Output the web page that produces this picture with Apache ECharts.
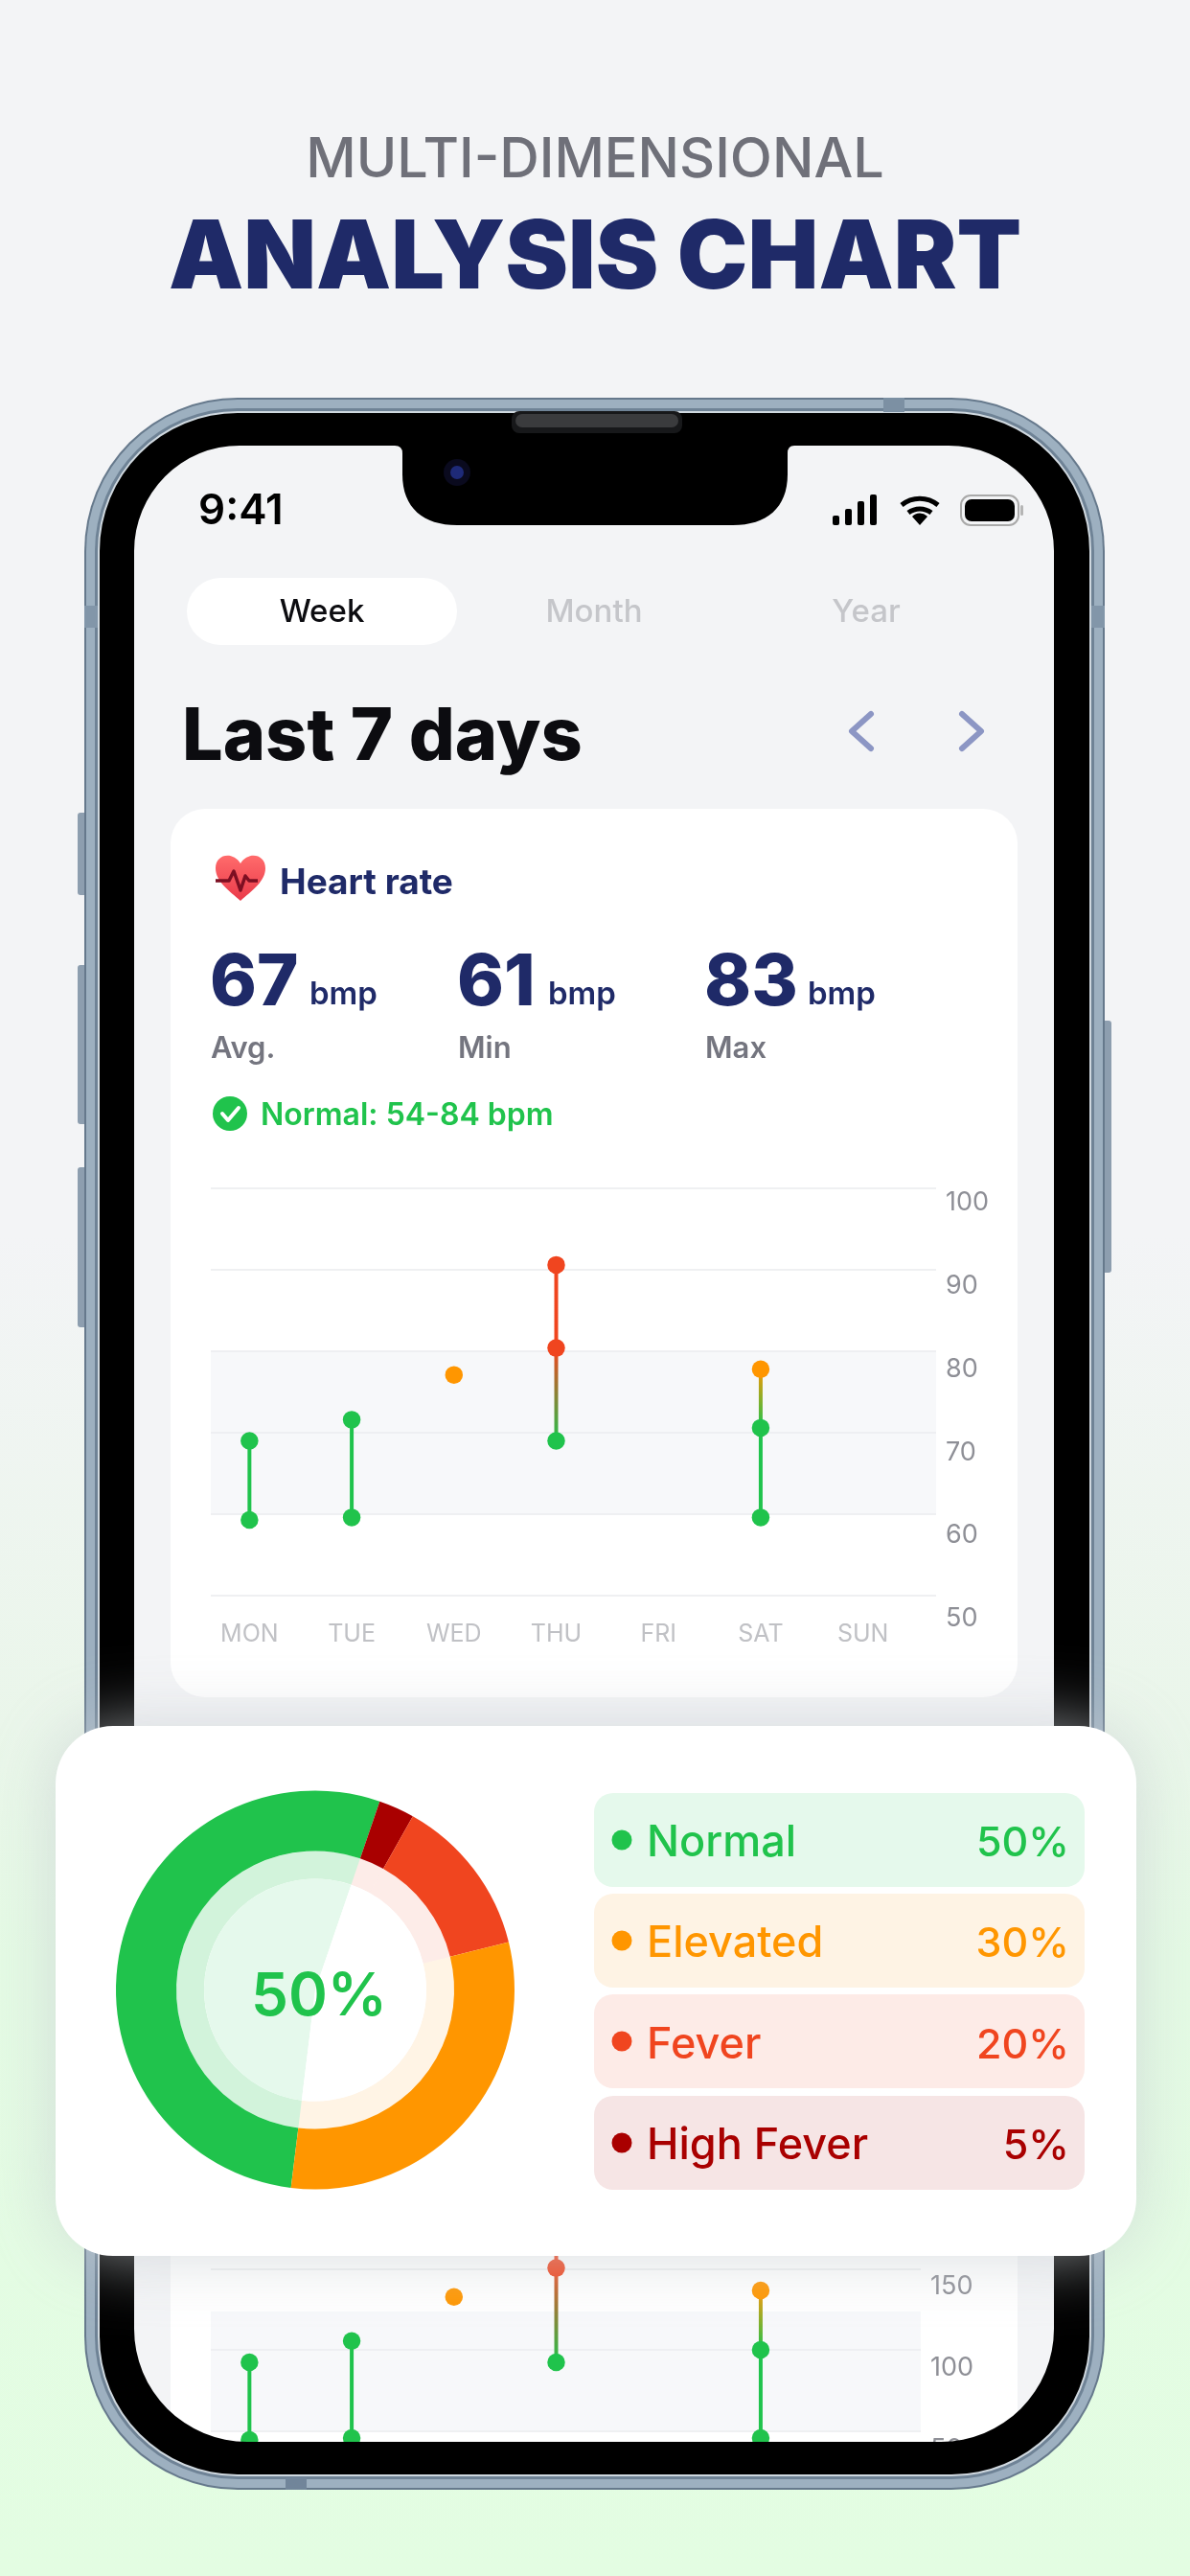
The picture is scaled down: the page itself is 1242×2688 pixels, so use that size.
<!DOCTYPE html>
<html>
<head>
<meta charset="UTF-8"/>
<title>Analysis chart</title>
<style>
  html, body { margin: 0; padding: 0; background: #f3f4f6; }
  #c { width: 1242px; height: 2688px; }
</style>
<script src="https://cdn.jsdelivr.net/npm/echarts@6/dist/echarts.min.js"></script>
</head>
<body>
<div id="c"></div>
<script>
// chart data
const days = ["MON", "TUE", "WED", "THU", "FRI", "SAT", "SUN"];

const hrTop = [69, 71.6, 77.1, 90.6, null, 77.8, null];
const hrMid = [null, null, null, 80.4, null, 70.6, null];
const hrBottom = [59.3, 59.6, null, 69, null, 59.6, null];
const hrBand = [60, 80];
const hrTicks = [50, 100, 10];

// second chart, mostly hidden by the popup card
const lowTop = [92.3, 105.5, 132.6, 172, null, 136.6, null];
const lowMid = [null, null, null, 150.4, null, 100, null];
const lowBottom = [44.5, 45.7, null, 92.3, null, 45.7, null];
const lowBand = [50, 123.8];
const lowTicks = [0, 200, 50];

const levelNames = ["Normal", "Elevated", "Fever", "High Fever"];
const levelLabels = ["50%", "30%", "20%", "5%"];
// slice sizes as drawn (they do not follow the labels)
const sliceNames = ["Normal", "High Fever", "Fever", "Elevated"];
const sliceValues = [53.3, 2.9, 13, 30.8];

const stats = ["67", "61", "83"];
const statNames = ["Avg.", "Min", "Max"];

const GREEN = "#20c34c", ORANGE = "#ff9600", RED = "#f0451f", DARK = "#a90000";
const NAVY = "#1f2a68";
const levelColors = { "Normal": GREEN, "Elevated": ORANGE, "Fever": RED, "High Fever": DARK };
const rowFills = ["#e5f9ec", "#fef3e4", "#fdebe7", "#f6e5e5"];
const FONT = "Inter, 'Noto Sans', sans-serif";

const chart = echarts.init(document.getElementById("c"), null, { renderer: "canvas", width: 1242, height: 2688 });

// ---- scenery helpers
function rrect(x, y, w, h, r) {
  return `M${x + r} ${y}L${x + w - r} ${y}A${r} ${r} 0 0 1 ${x + w} ${y + r}L${x + w} ${y + h - r}A${r} ${r} 0 0 1 ${x + w - r} ${y + h}L${x + r} ${y + h}A${r} ${r} 0 0 1 ${x} ${y + h - r}L${x} ${y + r}A${r} ${r} 0 0 1 ${x + r} ${y}Z`;
}
function box(x, y, width, height, r, fill, z, extra) {
  return { type: "rect", silent: true, z, shape: { x, y, width, height, r }, style: Object.assign({ fill }, extra || {}) };
}
// y is the text baseline
function label(x, baseline, text, font, fill, z, textAlign) {
  const size = parseFloat(font.split(" ")[1]);
  return { type: "text", silent: true, z, x, y: baseline - size * 0.784, style: { text, font: font + " " + FONT, fill, textAlign: textAlign || "left" } };
}
function dot(cx, cy, r, fill, z) {
  return { type: "circle", silent: true, z, shape: { cx, cy, r }, style: { fill } };
}
// the graphic component has no plain path type, so each path gets its own shape
let pathCount = 0;
function path(pathData, style, z) {
  const type = "scenePath" + (pathCount++);
  echarts.graphic.registerShape(type, echarts.graphic.extendPath(pathData, {}));
  return { type, silent: true, z, style };
}

// the screen hole runs counter-clockwise so it cuts out of the clockwise body
const screenHole = "M412 465L250 465A110 110 0 0 0 140 575L140 2430A118 118 0 0 0 258 2548L982 2548A118 118 0 0 0 1100 2430L1100 575A110 110 0 0 0 990 465L829 465Q822 465 822 473L822 495C822 530 800 548 765 548L477 548C442 548 420 530 420 495L420 473Q420 465 412 465Z";

const scenery = [
  { type: "rect", silent: true, z: -100, shape: { x: 0, y: 0, width: 1242, height: 2688 },
    style: { fill: { type: "linear", x: 0, y: 0, x2: 0, y2: 1, colorStops: [{ offset: 0, color: "#f3f4f6" }, { offset: 0.48, color: "#f3f4f6" }, { offset: 0.67, color: "#eaf6ea" }, { offset: 0.76, color: "#e4fbe4" }, { offset: 1, color: "#e3fde2" }] } } },
  label(621, 184, "MULTI-DIMENSIONAL", "500 57.5px", "#6f7079", -99, "center"),
  label(621, 299, "ANALYSIS CHART", "900 98.5px", NAVY, -99, "center"),

  // side buttons
  box(81, 848, 12, 86, 3, "#8d9eaf", -96),
  box(81, 1007, 12, 166, 3, "#8d9eaf", -96),
  box(81, 1218, 12, 167, 3, "#8d9eaf", -96),
  box(1149, 1065, 11, 263, 3, "#8d9eaf", -96),

  // phone body: metal rim in layers, then a thin light line under the black
  box(88, 415, 1065, 2183, 160, "#66798c", -95),
  box(90, 417, 1061, 2179, 158, "#9db0c0", -95),
  box(99, 426, 1043, 2161, 149, "#6f8396", -95),
  box(102, 429, 1037, 2155, 146, "#cfd8df", -95),
  box(922, 415, 22, 15, 0, "#7c90a3", -94),
  box(298, 2585, 22, 13, 0, "#71859a", -94),
  box(88, 632, 14, 23, 0, "#8296a9", -94),
  box(1139, 632, 14, 23, 0, "#8296a9", -94),
  box(139, 460, 963, 2095, 90, "#f3f4f6", -90),

  // status bar
  label(207, 546, "9:41", "600 44px", "#000000", -70),
  box(869, 538, 7, 10, 2, "#000", -70),
  box(882, 531, 7, 17, 2, "#000", -70),
  box(895, 523, 7, 25, 2, "#000", -70),
  box(908, 516, 7, 32, 2, "#000", -70),
  path("M941 527A30 30 0 0 1 979 527", { fill: "none", stroke: "#000", lineWidth: 5 }, -70),
  path("M948 535A20 20 0 0 1 972 535", { fill: "none", stroke: "#000", lineWidth: 5 }, -70),
  path("M960 548L952 539A11 11 0 0 1 968 539Z", { fill: "#000" }, -70),
  box(1003, 517, 60, 31, 10, "none", -70, { stroke: "#a9a9a9", lineWidth: 2 }),
  box(1007, 521, 52, 23, 7, "#000", -70),
  box(1065, 527, 3, 11, 1.5, "#b5b5b5", -70),

  // tabs and heading
  box(195, 603, 282, 70, 35, "#ffffff", -70),
  label(336, 648, "Week", "500 33px", "#0c0c10", -69, "center"),
  label(620, 648, "Month", "500 33px", "#c5c6ca", -69, "center"),
  label(904, 648, "Year", "500 33px", "#c5c6ca", -69, "center"),
  label(190, 791, "Last 7 days", "800 75.5px", "#0c0c10", -69),
  path("M909 745L889 763L909 781", { fill: "none", stroke: "#8c96c4", lineWidth: 6, lineCap: "round", lineJoin: "round" }, -69),
  path("M1004 745L1024 763L1004 781", { fill: "none", stroke: "#8c96c4", lineWidth: 6, lineCap: "round", lineJoin: "round" }, -69),

  // heart rate card
  box(178, 844, 884, 927, 36, "#ffffff", -70),
  path("M251 940C240 930 225 920 225 906C225 891 243 888 251 901C259 888 277 891 277 906C277 920 262 930 251 940Z",
    { fill: { type: "linear", x: 0, y: 0, x2: 0, y2: 1, colorStops: [{ offset: 0, color: "#ff6b6b" }, { offset: 1, color: "#ea3a4a" }] } }, -69),
  path("M225 919L239 919L244 909L251 929L256 914L260 919L269 919", { fill: "none", stroke: "#7d0f22", lineWidth: 3.5, lineJoin: "round" }, -68),
  label(292, 932, "Heart rate", "700 37px", NAVY, -69),
  dot(240, 1162, 18, GREEN, -69),
  path("M232 1162L238 1169L249 1156", { fill: "none", stroke: "#fff", lineWidth: 4, lineCap: "round", lineJoin: "round" }, -68),
  label(272, 1173, "Normal: 54-84 bpm", "600 32px", GREEN, -69),

  // second card behind the popup
  box(178, 2300, 884, 260, 0, "#ffffff", -70),

  // front of the phone over the charts
  path(rrect(104, 431, 1033, 2151, 144) + screenHole, { fill: "#000000" }, 50),
  box(534, 429, 178, 23, 8, "#17181a", 51),
  box(538, 432, 170, 14, 7, "#3a3b3d", 51),
  dot(477, 493, 14, "#0a0a1e", 51),
  dot(477, 493, 7, "#1e2a78", 51),

  // popup card
  box(58, 1801, 1128, 553, 60, "#ffffff", 60, { shadowBlur: 70, shadowColor: "rgba(200,205,210,0.7)" }),
  label(333, 2102, "50%", "600 62px", GREEN, 75, "center")
];

// stats row
const statX = [219, 477, 735];
const bmpX = [323, 572, 843];
stats.forEach((s, i) => {
  scenery.push(label(statX[i], 1048, s, "800 74px", NAVY, -69));
  scenery.push(label(bmpX[i], 1047, "bmp", "600 33px", NAVY, -69));
  scenery.push(label(statX[i] + 1, 1103, statNames[i], "600 31px", "#74757f", -69));
});

// popup legend
const rowTop = [1871, 1976, 2081, 2187];
const rowBase = [1936, 2041, 2147, 2252];
levelNames.forEach((name, i) => {
  const col = levelColors[name];
  scenery.push(box(620, rowTop[i], 512, 98, 20, rowFills[i], 70));
  scenery.push(dot(649, rowTop[i] + 49, 10.5, col, 71));
  scenery.push(label(675, rowBase[i], name, "500 45px", col, 71));
  scenery.push(label(1116, rowBase[i], levelLabels[i], "500 43px", col, 71, "right"));
});

// ---- chart helpers
// one stem per day; colour runs from the top point's colour down to green
function dayStem(i, top, mid, bottom, axis, colorOf) {
  const vals = [top[i], mid[i], bottom[i]].filter(v => v != null);
  if (!vals.length) return null;
  const span = vals[0] - vals[vals.length - 1] || 1;
  const firstGreen = vals.findIndex(v => colorOf(v) === GREEN);
  const to = firstGreen < 0 ? 1 : (vals[0] - vals[firstGreen]) / span;
  const from = firstGreen > 0 ? (vals[0] - vals[firstGreen - 1]) / span : 0;
  const upper = colorOf(vals[0]);
  return {
    type: "line", xAxisIndex: axis, yAxisIndex: axis, z: 5, silent: true,
    symbol: "circle", symbolSize: 18.5, clip: false,
    lineStyle: { width: 4, color: { type: "linear", x: 0, y: 0, x2: 0, y2: 1, colorStops: [{ offset: 0, color: upper }, { offset: from, color: upper }, { offset: to, color: GREEN }, { offset: 1, color: GREEN }] } },
    data: vals.map(v => ({ value: [days[i], v], itemStyle: { color: colorOf(v) } }))
  };
}
function bandSeries(axis, band) {
  return {
    type: "line", xAxisIndex: axis, yAxisIndex: axis, data: [], silent: true, z: 1,
    markArea: { silent: true, itemStyle: { color: "rgba(236,239,243,0.42)" }, data: [[{ yAxis: band[1] }, { yAxis: band[0] }]] }
  };
}
const hrColor = v => v >= 80 ? RED : v >= 75 ? ORANGE : GREEN;
const lowColor = v => v >= 140 ? RED : v >= 125 ? ORANGE : GREEN;

function hiddenX(gridIndex) { return { type: "category", data: days, gridIndex, show: false, boundaryGap: true }; }
function baseY(gridIndex, ticks) { return { type: "value", gridIndex, min: ticks[0], max: ticks[1], interval: ticks[2], axisLine: { show: false }, axisTick: { show: false }, axisLabel: { show: false }, splitLine: { show: false } }; }
function lineY(gridIndex, ticks, trimEnds) {
  const y = baseY(gridIndex, ticks);
  y.splitLine = { show: true, lineStyle: { color: "#eff0f2", width: 2 }, showMinLine: !trimEnds, showMaxLine: !trimEnds };
  return y;
}
function labelY(gridIndex, ticks, trimEnds) {
  const y = baseY(gridIndex, ticks);
  y.position = "right";
  y.axisLabel = { show: true, inside: false, margin: 10, color: "#8e8f96", fontSize: 27, fontFamily: FONT, showMinLabel: !trimEnds, showMaxLabel: !trimEnds };
  return y;
}

const xHr = hiddenX(1);
xHr.show = true;
xHr.axisLine = { show: false };
xHr.axisTick = { show: false };
xHr.axisLabel = { show: true, color: "#c0c1c5", fontSize: 25, fontFamily: FONT, margin: 28, interval: 0 };

const stems = [];
days.forEach((d, i) => {
  stems.push(dayStem(i, hrTop, hrMid, hrBottom, 1, hrColor));
  stems.push(dayStem(i, lowTop, lowMid, lowBottom, 4, lowColor));
});

const pieBase = { type: "pie", silent: true, center: [329, 2076.5], startAngle: 263, label: { show: false }, labelLine: { show: false }, emphasis: { disabled: true } };

const option = {
  animation: false,
  backgroundColor: "transparent",
  graphic: { elements: scenery },
  grid: [
    { left: 220, top: 1240, width: 757, height: 425 },
    { left: 207, top: 1240, width: 747, height: 425 },
    { left: 220, top: 1255, width: 757, height: 434 },
    { left: 220, top: 2282.6, width: 741, height: 338.8 },
    { left: 207, top: 2282.6, width: 747, height: 338.8 },
    { left: 220, top: 2301.6, width: 741, height: 338.8 }
  ],
  xAxis: [hiddenX(0), xHr, hiddenX(2), hiddenX(3), hiddenX(4), hiddenX(5)],
  yAxis: [
    lineY(0, hrTicks, false), baseY(1, hrTicks), labelY(2, hrTicks, false),
    lineY(3, lowTicks, true), baseY(4, lowTicks), labelY(5, lowTicks, true)
  ],
  series: [
    bandSeries(0, hrBand),
    bandSeries(3, lowBand),
    ...stems.filter(Boolean),
    // popup doughnut: solid ring, tinted ring, tinted centre
    Object.assign({}, pieBase, {
      z: 74, radius: [145, 208],
      data: sliceNames.map((name, i) => ({ name, value: sliceValues[i], itemStyle: { color: levelColors[name] } }))
    }),
    Object.assign({}, pieBase, {
      z: 73, radius: [116, 145],
      data: sliceNames.map((name, i) => ({ name, value: sliceValues[i], itemStyle: { color: name === "High Fever" ? RED : levelColors[name], opacity: name === "Normal" ? 0.2 : 0.1 } }))
    }),
    Object.assign({}, pieBase, {
      z: 73, radius: [0, 116],
      data: sliceNames.map((name, i) => ({ name, value: sliceValues[i], itemStyle: { color: name === "Normal" ? "#e5f9ec" : "#ffffff" } }))
    })
  ]
};
chart.setOption(option);
</script>
</body>
</html>
